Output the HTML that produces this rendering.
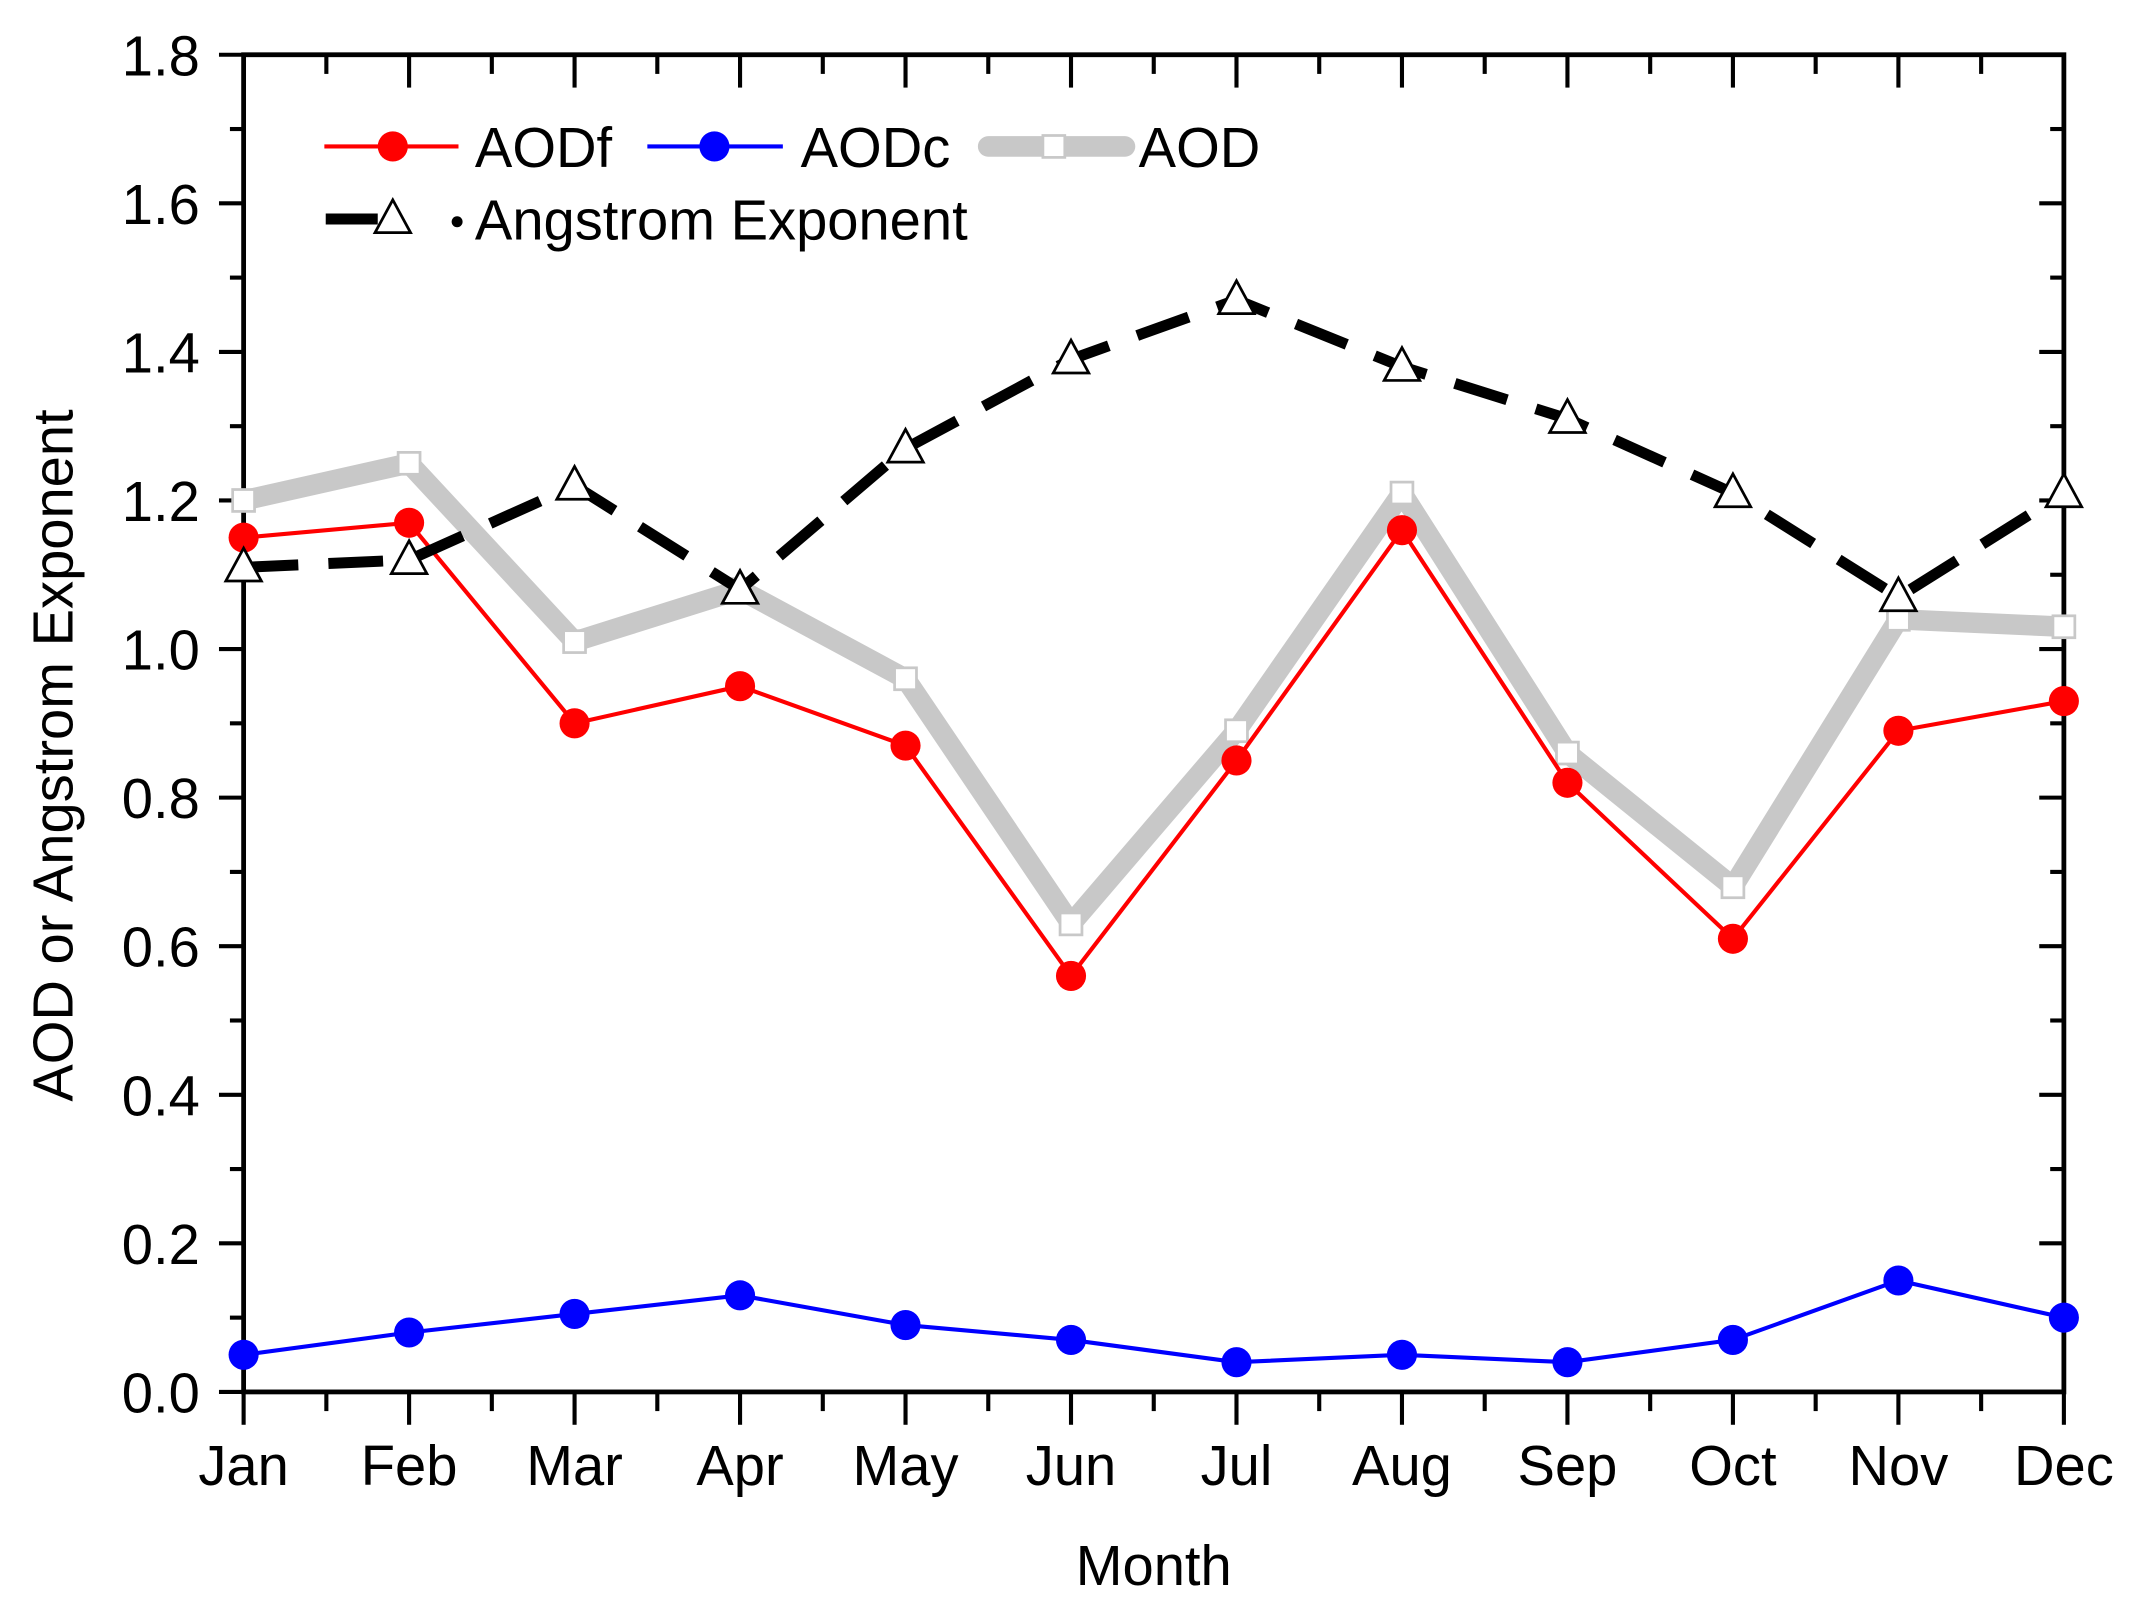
<!DOCTYPE html>
<html><head><meta charset="utf-8"><style>
html,body{margin:0;padding:0;background:#fff;}
svg{display:block;font-family:"Liberation Sans",Arial,sans-serif;}
</style></head><body>
<svg id="chart" width="2146" height="1609" viewBox="0 0 1568 1175.6" preserveAspectRatio="none" xmlns="http://www.w3.org/2000/svg">
<g id="g"></g>
</svg>
<script>
const months=["Jan","Feb","Mar","Apr","May","Jun","Jul","Aug","Sep","Oct","Nov","Dec"];
const aodf=[1.15,1.17,0.90,0.95,0.87,0.56,0.85,1.16,0.82,0.61,0.89,0.93];
const aodc=[0.05,0.08,0.105,0.13,0.09,0.07,0.04,0.05,0.04,0.07,0.15,0.10];
const aod=[1.20,1.25,1.01,1.08,0.96,0.63,0.89,1.21,0.86,0.68,1.04,1.03];
const ae=[1.11,1.12,1.22,1.08,1.27,1.39,1.47,1.38,1.31,1.21,1.07,1.21];
const yTicks=["0.0","0.2","0.4","0.6","0.8","1.0","1.2","1.4","1.6","1.8"];
const L=178,R=1508,T=40,B=1017,YMAX=1.8;
const xs=i=>L+i*(R-L)/(months.length-1);
const ys=v=>B-v/YMAX*(B-T);
const NS="http://www.w3.org/2000/svg";
const g=document.getElementById('g');
function mk(tag,attrs,name,parent){const e=document.createElementNS(NS,tag);for(const k in attrs)e.setAttribute(k,attrs[k]);


(parent||g).appendChild(e);return e;}
function txt(x,y,s,size,anchor,name,extra){const t=mk('text',Object.assign({x:x,y:y,'font-size':size,'text-anchor':anchor,fill:'#000'},extra||{}),name);t.textContent=s;return t;}
const FS=41;
for(let i=0;i<yTicks.length*2-1;i++){const v=i*0.1,y=ys(v),major=i%2==0;
 mk('line',{x1:L-(major?18:10),x2:L,y1:y,y2:y,stroke:'#000','stroke-width':3},'y-tick-left');
 mk('line',{x1:R,x2:R-(major?18:10),y1:y,y2:y,stroke:'#000','stroke-width':3},'y-tick-right');}
yTicks.forEach((s,i)=>txt(L-32,ys(+s)+15,s,FS,'end','y-tick-label'));
for(let i=0;i<months.length*2-1;i++){const x=L+i*(R-L)/(2*(months.length-1)),major=i%2==0;
 mk('line',{x1:x,x2:x,y1:B,y2:B+(major?24:14),stroke:'#000','stroke-width':3},'x-tick-bottom');
 mk('line',{x1:x,x2:x,y1:T,y2:T+(major?24:14),stroke:'#000','stroke-width':3},'x-tick-top');}
months.forEach((m,i)=>txt(xs(i),1085,m,FS,'middle','x-tick-label'));
mk('rect',{x:L,y:T,width:R-L,height:B-T,fill:'none',stroke:'#000','stroke-width':3.5},'plot-frame');
txt(843,1158,'Month',FS,'middle','x-axis-title');
txt(0,0,'AOD or Angstrom Exponent',FS,'middle','y-axis-title',{transform:'translate(53,552) rotate(-90)'});
function pts(a){return a.map((v,i)=>xs(i)+','+ys(v)).join(' ');}
mk('polyline',{points:pts(aod),fill:'none',stroke:'#c8c8c8','stroke-width':15,'stroke-linejoin':'round'},'aod-line');
aod.forEach((v,i)=>mk('rect',{x:xs(i)-8,y:ys(v)-8,width:16,height:16,fill:'#fff',stroke:'#c8c8c8','stroke-width':2},'aod-marker'));
mk('polyline',{points:pts(aodf),fill:'none',stroke:'#f00','stroke-width':3},'aodf-line');
aodf.forEach((v,i)=>mk('circle',{cx:xs(i),cy:ys(v),r:11,fill:'#f00'},'aodf-marker'));
mk('polyline',{points:pts(aodc),fill:'none',stroke:'#00f','stroke-width':3},'aodc-line');
aodc.forEach((v,i)=>mk('circle',{cx:xs(i),cy:ys(v),r:11,fill:'#00f'},'aodc-marker'));
mk('polyline',{points:pts(ae),fill:'none',stroke:'#000','stroke-width':8,'stroke-dasharray':'40,22'},'ae-line');
function tri(x,y,name){mk('polygon',{points:`${x},${y-14} ${x-13},${y+10} ${x+13},${y+10}`,fill:'#fff',stroke:'#000','stroke-width':2},name);}
ae.forEach((v,i)=>tri(xs(i),ys(v),'ae-marker'));
mk('line',{x1:237,x2:335,y1:107,y2:107,stroke:'#f00','stroke-width':3},'legend-aodf-line');
mk('circle',{cx:287,cy:107,r:11,fill:'#f00'},'legend-aodf-marker');
txt(347,122,'AODf',FS,'start','legend-aodf-label');
mk('line',{x1:473,x2:572,y1:107,y2:107,stroke:'#00f','stroke-width':3},'legend-aodc-line');
mk('circle',{cx:522,cy:107,r:11,fill:'#00f'},'legend-aodc-marker');
txt(585,122,'AODc',FS,'start','legend-aodc-label');
mk('line',{x1:722,x2:822,y1:107,y2:107,stroke:'#c8c8c8','stroke-width':15,'stroke-linecap':'round'},'legend-aod-line');
mk('rect',{x:762,y:99,width:16,height:16,fill:'#fff',stroke:'#c8c8c8','stroke-width':2},'legend-aod-marker');
txt(832,122,'AOD',FS,'start','legend-aod-label');
mk('line',{x1:238,x2:276,y1:160,y2:160,stroke:'#000','stroke-width':8},'legend-ae-line');
tri(287,160,'legend-ae-marker');
mk('circle',{cx:334,cy:162,r:4,fill:'#000'},'legend-ae-dot');
txt(347,175,'Angstrom Exponent',FS,'start','legend-ae-label');
</script>
</body></html>
